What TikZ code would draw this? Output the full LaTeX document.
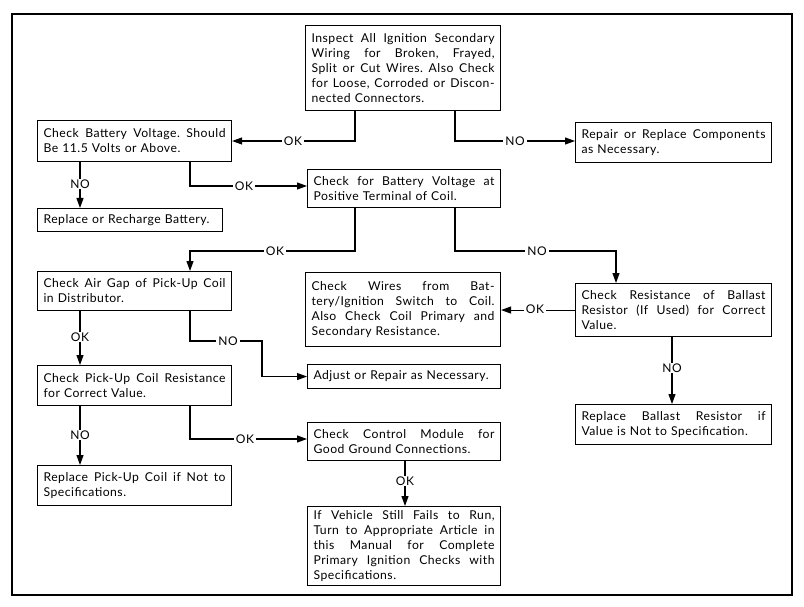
\documentclass[tikz,border=0pt]{standalone}
\usepackage{fontspec}
\setmainfont{Lato}[LetterSpace=4]
\usetikzlibrary{arrows.meta}
\newlength\jw
\ExplSyntaxOn
\NewDocumentCommand\J{m}
  {
    \tl_set:Nn \l_tmpa_tl {#1}
    \tl_replace_all:Nnn \l_tmpa_tl {~} {\hfill}
    \leavevmode\hbox to \jw {\l_tmpa_tl}
  }
\ExplSyntaxOff
\newcommand\boxfont{\fontsize{12.2}{15}\selectfont\frenchspacing}
\begin{document}
\begin{tikzpicture}[x=1pt,y=-1pt,
  box/.style={draw, line width=1.1pt, anchor=north west, inner xsep=6pt, inner ysep=0pt, align=left, font=\boxfont},
  tw/.style={text width=#1, execute at begin node={\global\jw=#1\relax}},
  conn/.style={line width=1.1pt},
  arr/.style={conn, -{Triangle[length=10pt,width=7pt]}},
  lab/.style={fill=white, inner xsep=2pt, inner ysep=1pt, font=\fontsize{12}{13}\selectfont}]
\useasboundingbox (0,0) rectangle (804,607);
\draw[line width=2.2pt] (12,14) rectangle (792,595);

\node[box, tw=183pt, minimum height=85pt] (b1) at (305,25)
  {\J{Inspect All Ignition Secondary}\\\J{Wiring for Broken, Frayed,}\\\J{Split or Cut Wires. Also Check}\\\J{for Loose, Corroded or Discon-}\\nected Connectors.};
\node[box, tw=182pt, minimum height=41pt] (b2) at (37,120)
  {\J{Check Battery Voltage. Should}\\Be 11.5 Volts or Above.};
\node[box, tw=184pt, minimum height=40pt] (b3) at (575,122)
  {\J{Repair or Replace Components}\\as Necessary.};
\node[box, tw=181pt, minimum height=38pt] (b4) at (307,169)
  {\J{Check for Battery Voltage at}\\Positive Terminal of Coil.};
\node[box, tw=173pt, minimum height=23pt] (b5) at (37,208)
  {Replace or Recharge Battery.};
\node[box, tw=182pt, minimum height=39pt] (b6) at (37,271)
  {\J{Check Air Gap of Pick-Up Coil}\\in Distributor.};
\node[box, tw=183pt, minimum height=74pt] (b7) at (305,272)
  {\J{Check Wires from Bat-}\\\J{tery/Ignition Switch to Coil.}\\\J{Also Check Coil Primary and}\\Secondary Resistance.};
\node[box, tw=184pt, minimum height=53pt] (b8) at (575,283)
  {\J{Check Resistance of Ballast}\\\J{Resistor (If Used) for Correct}\\Value.};
\node[box, tw=181pt, minimum height=24pt] (b9) at (307,364)
  {Adjust or Repair as Necessary.};
\node[box, tw=182pt, minimum height=40pt] (b10) at (37,365)
  {\J{Check Pick-Up Coil Resistance}\\for Correct Value.};
\node[box, tw=181pt, minimum height=38pt] (b11) at (307,422)
  {\J{Check Control Module for}\\Good Ground Connections.};
\node[box, tw=184pt, minimum height=40pt] (b12) at (575,404)
  {\J{Replace Ballast Resistor if}\\Value is Not to Specification.};
\node[box, tw=182pt, minimum height=40pt] (b13) at (37,465)
  {\J{Replace Pick-Up Coil if Not to}\\Specifications.};
\node[box, tw=181pt, minimum height=79pt] (b14) at (307,506)
  {\J{If Vehicle Still Fails to Run,}\\\J{Turn to Appropriate Article in}\\\J{this Manual for Complete}\\\J{Primary Ignition Checks with}\\Specifications.};

% connectors
\coordinate (k1) at (355,141);
\draw[arr] (b1.south -| k1) -- (k1) -- (k1 -| b2.east);
\node[lab] at (293,141) {OK};

\coordinate (k2) at (455,141);
\draw[arr] (b1.south -| k2) -- (k2) -- (k2 -| b3.west);
\node[lab] at (515,141) {NO};

\coordinate (k3) at (190,186);
\draw[arr] (b2.south -| k3) -- (k3) -- (k3 -| b4.west);
\node[lab] at (244,186) {OK};

\coordinate (k4) at (80,184);
\draw[arr] (b2.south -| k4) -- (b5.north -| k4);
\node[lab] at (k4) {NO};

\coordinate (k5a) at (355,251);
\coordinate (k5b) at (190,251);
\draw[arr] (b4.south -| k5a) -- (k5a) -- (k5b) -- (b6.north -| k5b);
\node[lab] at (275,251) {OK};

\coordinate (k6a) at (455,251);
\coordinate (k6b) at (616,251);
\draw[arr] (b4.south -| k6a) -- (k6a) -- (k6b) -- (b8.north -| k6b);
\node[lab] at (537,251) {NO};

\draw[arr] (b8.west) -- (b8.west -| b7.east);
\node[lab] at (535,309.5) {OK};

\coordinate (k8) at (672,368);
\draw[arr] (b8.south -| k8) -- (b12.north -| k8);
\node[lab] at (k8) {NO};

\coordinate (k9a) at (190,341);
\coordinate (k9b) at (262,341);
\draw[arr] (b6.south -| k9a) -- (k9a) -- (k9b) -- (k9b |- b9.west) -- (b9.west);
\node[lab] at (228,341) {NO};

\coordinate (k10) at (80,337);
\draw[arr] (b6.south -| k10) -- (b10.north -| k10);
\node[lab] at (k10) {OK};

\coordinate (k11) at (80,435);
\draw[arr] (b10.south -| k11) -- (b13.north -| k11);
\node[lab] at (k11) {NO};

\coordinate (k12) at (190,439);
\draw[arr] (b10.south -| k12) -- (k12) -- (k12 -| b11.west);
\node[lab] at (245,439) {OK};

\coordinate (k13) at (405,481);
\draw[arr] (b11.south -| k13) -- (b14.north -| k13);
\node[lab] at (k13) {OK};
\end{tikzpicture}
\end{document}
